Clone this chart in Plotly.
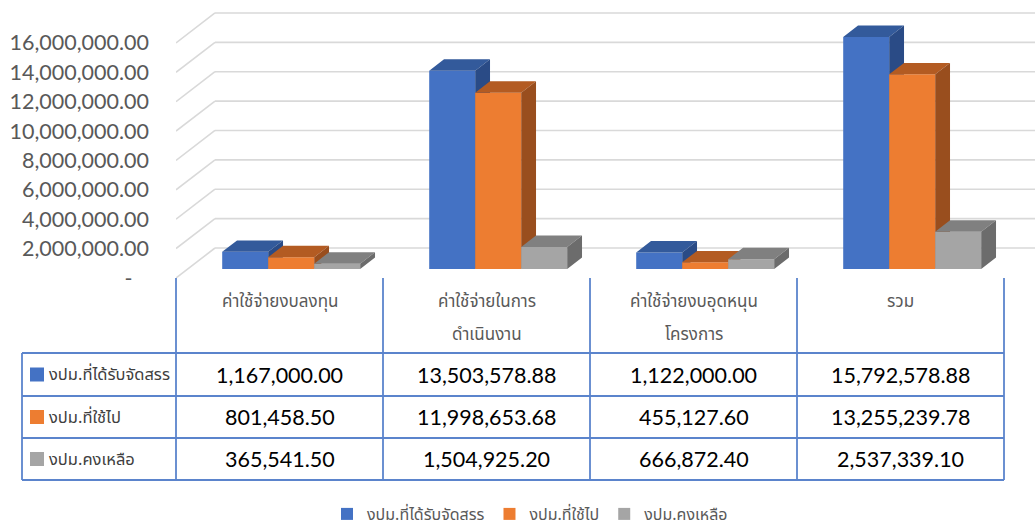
import plotly.graph_objects as go

# ---------------- data ----------------
categories = ["ค่าใช้จ่ายงบลงทุน", "ค่าใช้จ่ายในการ\nดำเนินงาน",
              "ค่าใช้จ่ายงบอุดหนุน\nโครงการ", "รวม"]
series_names = ["งปม.ที่ได้รับจัดสรร", "งปม.ที่ใช้ไป", "งปม.คงเหลือ"]
allocated = [1167000.00, 13503578.88, 1122000.00, 15792578.88]
spent = [801458.50, 11998653.68, 455127.60, 13255239.78]
remaining = [365541.50, 1504925.20, 666872.40, 2537339.10]
tick_values = [0, 2000000, 4000000, 6000000, 8000000, 10000000, 12000000, 14000000, 16000000]
tick_labels = ["-\u00a0\u00a0\u00a0", "2,000,000.00", "4,000,000.00", "6,000,000.00", "8,000,000.00",
               "10,000,000.00", "12,000,000.00", "14,000,000.00", "16,000,000.00"]

series_values = [allocated, spent, remaining]
front_colors = ["#4472C4", "#ED7D31", "#A5A5A5"]
top_colors = ["#335A9B", "#B35B22", "#808080"]
side_colors = ["#2A4B86", "#994E1E", "#6C6C6C"]

# ---------------- geometry (layout) ----------------
W, H = 1035, 529
ML, MT, MB = 176, 0, 251
plot_w = W - ML
plot_h = H - MT - MB
cat_px = 207.0
px_per_unit_y = 14.69 / 1e6
x_range = [0, plot_w / cat_px]
y_range = [0, plot_h / px_per_unit_y]

DX = 39 / cat_px               # depth offset in x units
DY = 30 / px_per_unit_y        # depth offset in value units
f_front = 0.30                 # depth of bars' front face
f_depth = 0.38                 # bar depth
bar_w = 46 / cat_px

FONT_NUM = "Lato, 'Open Sans', sans-serif"
FONT_TH = "Tahoma, 'Noto Sans Thai', 'Leelawadee UI', sans-serif"


def xp(px):
    return (px - ML) / plot_w


def yp(py):
    return (MT + plot_h - py) / plot_h


fig = go.Figure()

axis_ids = ["", "2", "3"]
for s, vals in enumerate(series_values):
    xa, ya = "x" + axis_ids[s], "y" + axis_ids[s]
    base = f_front * DY
    xs = [k + 0.5 + (s - 1) * bar_w + f_front * DX for k in range(len(vals))]
    fig.add_trace(go.Bar(
        x=xs, y=vals, base=base, width=bar_w, name=series_names[s],
        marker=dict(color=front_colors[s], line=dict(width=0)),
        xaxis=xa, yaxis=ya, showlegend=True, hoverinfo="skip"))
    dxb, dyb = f_depth * DX, f_depth * DY
    tx, ty, sx, sy = [], [], [], []
    for xc, v in zip(xs, vals):
        xl, xr = xc - bar_w / 2, xc + bar_w / 2
        top = base + v
        tx += [xl, xr, xr + dxb, xl + dxb, xl, None]
        ty += [top, top, top + dyb, top + dyb, top, None]
        sx += [xr, xr, xr + dxb, xr + dxb, xr, None]
        sy += [base, top, top + dyb, base + dyb, base, None]
    fig.add_trace(go.Scatter(x=tx, y=ty, fill="toself", fillcolor=top_colors[s],
                             mode="lines", line=dict(width=0, color=top_colors[s]),
                             xaxis=xa, yaxis=ya, showlegend=False, hoverinfo="skip"))
    fig.add_trace(go.Scatter(x=sx, y=sy, fill="toself", fillcolor=side_colors[s],
                             mode="lines", line=dict(width=0, color=side_colors[s]),
                             xaxis=xa, yaxis=ya, showlegend=False, hoverinfo="skip"))

shapes = []
# back wall gridlines + left wall diagonals
for v in tick_values:
    shapes.append(dict(type="line", xref="x", yref="y", x0=DX, x1=x_range[1] + 1,
                       y0=v + DY, y1=v + DY, line=dict(color="#D9D9D9", width=1.6), layer="below"))
    shapes.append(dict(type="line", xref="x", yref="y", x0=0, x1=DX,
                       y0=v, y1=v + DY, line=dict(color="#D9D9D9", width=1.6), layer="below"))

# ---------------- data table ----------------
tcol = "#5B84CC"
ncat = len(categories)
row_lines = [353, 396, 438, 480]
for py in row_lines:
    shapes.append(dict(type="line", xref="paper", yref="paper", x0=xp(22), x1=xp(ML + ncat * cat_px),
                       y0=yp(py), y1=yp(py), line=dict(color=tcol, width=1.8)))
for k in range(ncat + 1):
    xx = xp(ML + k * cat_px)
    shapes.append(dict(type="line", xref="paper", yref="paper", x0=xx, x1=xx,
                       y0=yp(278), y1=yp(480), line=dict(color=tcol, width=1.8)))
shapes.append(dict(type="line", xref="paper", yref="paper", x0=xp(22), x1=xp(22),
                   y0=yp(353), y1=yp(480), line=dict(color=tcol, width=1.8)))

annotations = []
# header
for k, cat in enumerate(categories):
    cx = xp(ML + (k + 0.5) * cat_px)
    for i, line in enumerate(cat.split("\n")):
        annotations.append(dict(x=cx, y=yp(302 + 33 * i), xref="paper", yref="paper",
                                text=line, showarrow=False, xanchor="center", yanchor="middle",
                                font=dict(family=FONT_TH, size=17, color="#595959")))
# rows
row_centers = [374.5, 417, 459]
for s, vals in enumerate(series_values):
    cy = yp(row_centers[s])
    shapes.append(dict(type="rect", xref="paper", yref="paper", x0=xp(30), x1=xp(44),
                       y0=cy - 7 / plot_h, y1=cy + 7 / plot_h,
                       fillcolor=front_colors[s], line=dict(width=0)))
    annotations.append(dict(x=xp(47), y=cy, xref="paper", yref="paper", text=series_names[s],
                            showarrow=False, xanchor="left", yanchor="middle",
                            font=dict(family=FONT_TH, size=16.5, color="#404040")))
    for k, v in enumerate(vals):
        annotations.append(dict(x=xp(ML + (k + 0.5) * cat_px), y=cy, xref="paper", yref="paper",
                                text=f"{v:,.2f}", showarrow=False, xanchor="center", yanchor="middle",
                                font=dict(family=FONT_NUM, size=21.5, color="#000000")))

axis_common = dict(range=x_range, visible=False, fixedrange=True, automargin=False)
yaxis_common = dict(range=y_range, fixedrange=True, showgrid=False, zeroline=False,
                    showline=False, automargin=False)

fig.update_layout(
    width=W, height=H,
    margin=dict(l=ML, r=0, t=MT, b=MB, pad=0, autoexpand=False),
    paper_bgcolor="white", plot_bgcolor="rgba(0,0,0,0)",
    barmode="overlay",
    xaxis=dict(**axis_common),
    xaxis2=dict(**axis_common, overlaying="x"),
    xaxis3=dict(**axis_common, overlaying="x"),
    yaxis=dict(**yaxis_common, tickmode="array", tickvals=tick_values, ticktext=tick_labels,
               ticks="", ticklabelstandoff=26,
               tickfont=dict(family=FONT_NUM, size=21.5, color="#595959")),
    yaxis2=dict(**yaxis_common, overlaying="y", visible=False),
    yaxis3=dict(**yaxis_common, overlaying="y", visible=False),
    shapes=shapes, annotations=annotations,
    legend=dict(orientation="h", x=xp(530), xanchor="center", y=yp(514), yanchor="middle",
                font=dict(family=FONT_TH, size=16, color="#595959"),
                itemsizing="constant", traceorder="normal", itemwidth=30, tracegroupgap=0,
                borderwidth=0),
    showlegend=True,
)

fig.write_html("out.html", config={"displayModeBar": False},
               post_script="document.body.style.margin='0px';document.body.style.overflow='hidden';")
